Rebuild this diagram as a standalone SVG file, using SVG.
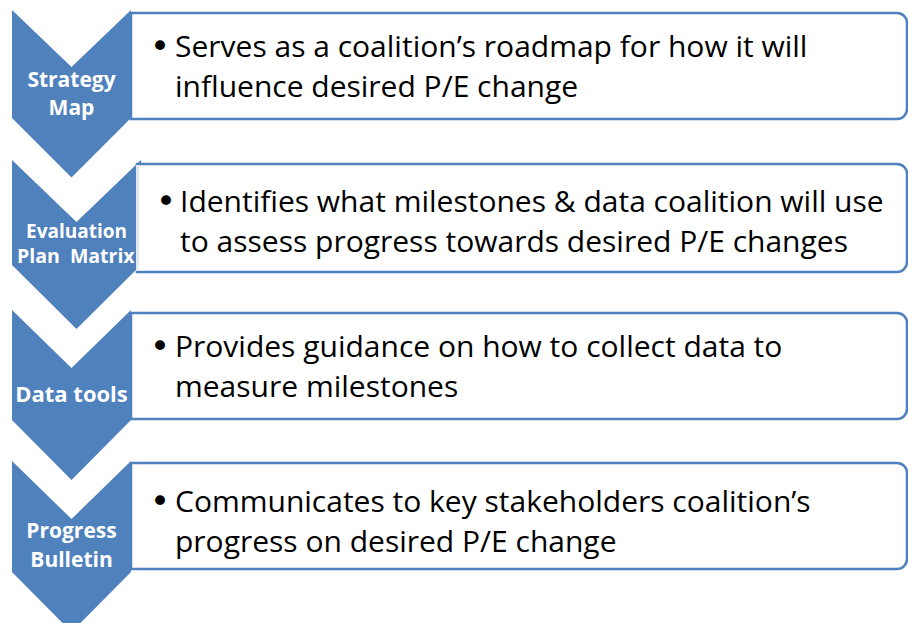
<svg xmlns="http://www.w3.org/2000/svg" width="908" height="623" viewBox="0 0 908 623">
<style>
.chev{fill:#4F81BD;}
.box{fill:#FFFFFF;stroke:#4F81BD;stroke-width:2.5;}
.lbl{font-family:"Open Sans","Liberation Sans",sans-serif;font-weight:bold;fill:#FFFFFF;text-anchor:middle;}
.txt{font-family:"Open Sans","Liberation Sans",sans-serif;font-size:30px;fill:#000000;}
.bul{font-family:"DejaVu Sans",sans-serif;font-size:34px;fill:#000000;}
</style>
<rect width="908" height="623" fill="#FFFFFF"/>
<g id="node-strategy-map">
  <polygon class="chev" points="12,10 71.5,67 131,10 131,118 71.5,177.5 12,118"/>
  <text class="lbl" font-size="21" x="71.5" y="87">Strategy</text>
  <text class="lbl" font-size="21" x="71.5" y="115">Map</text>
  <path class="box" d="M131,13 H897 A10,10 0 0 1 907,23 V109 A10,10 0 0 1 897,119 H131 Z"/>
  <text class="bul" x="150" y="58">•</text>
  <text class="txt" x="175" y="57">Serves as a coalition’s roadmap for how it will</text>
  <text class="txt" x="175" y="97">influence desired P/E change</text>
</g>
<g id="node-evaluation-plan-matrix">
  <polygon class="chev" points="12,160 76.5,222 141,160 141,265 76.5,329 12,265"/>
  <text class="lbl" font-size="19" x="76.5" y="238">Evaluation</text>
  <text class="lbl" font-size="19.5" x="17" y="263" style="text-anchor:start" xml:space="preserve">Plan  Matrix</text>
  <path class="box" d="M137,164 H897 A10,10 0 0 1 907,174 V262 A10,10 0 0 1 897,272 H137 Z"/>
  <line x1="137.5" y1="165" x2="137.5" y2="271" stroke="#E3E8EF" stroke-width="3"/>
  <text class="bul" x="156" y="213">•</text>
  <text class="txt" x="180" y="212">Identifies what milestones &amp; data coalition will use</text>
  <text class="txt" x="180" y="252">to assess progress towards desired P/E changes</text>
</g>
<g id="node-data-tools">
  <polygon class="chev" points="12,310 71.5,368 131,310 131,420 71.5,480 12,420"/>
  <text class="lbl" font-size="22" x="71.5" y="402">Data tools</text>
  <path class="box" d="M131,313 H897 A10,10 0 0 1 907,323 V409 A10,10 0 0 1 897,419 H131 Z"/>
  <text class="bul" x="150" y="358">•</text>
  <text class="txt" x="175" y="357">Provides guidance on how to collect data to</text>
  <text class="txt" x="175" y="397">measure milestones</text>
</g>
<g id="node-progress-bulletin">
  <polygon class="chev" points="12,461 71.5,519 131,461 131,572 71.5,632 12,572"/>
  <text class="lbl" font-size="21" x="71.5" y="538">Progress</text>
  <text class="lbl" font-size="21" x="71.5" y="567">Bulletin</text>
  <path class="box" d="M131,463 H897 A10,10 0 0 1 907,473 V559 A10,10 0 0 1 897,569 H131 Z"/>
  <text class="bul" x="150" y="513">•</text>
  <text class="txt" x="175" y="512">Communicates to key stakeholders coalition’s</text>
  <text class="txt" x="175" y="552">progress on desired P/E change</text>
</g>
<g id="connectors"></g>
</svg>
